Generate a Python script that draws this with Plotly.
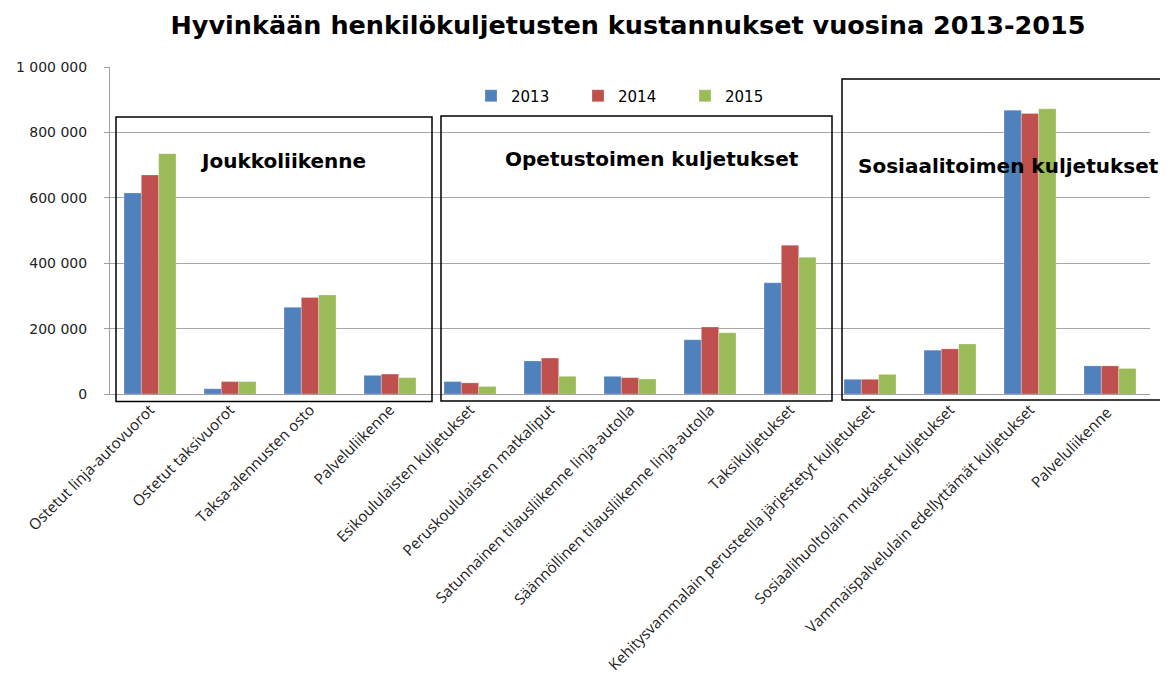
import plotly.graph_objects as go

categories = [
    "Ostetut linja-autovuorot",
    "Ostetut taksivuorot",
    "Taksa-alennusten osto",
    "Palveluliikenne",
    "Esikoululaisten kuljetukset",
    "Peruskoululaisten matkaliput",
    "Satunnainen tilausliikenne linja-autolla",
    "Säännöllinen tilausliikenne linja-autolla",
    "Taksikuljetukset",
    "Kehitysvammalain perusteella järjestetyt kuljetukset",
    "Sosiaalihuoltolain mukaiset kuljetukset",
    "Vammaispalvelulain edellyttämät kuljetukset",
    "Palveluliikenne ",
]
v2013 = [615000, 16000, 265000, 57000, 38000, 101000, 54000, 166000, 340000, 45000, 134000, 868000, 86000]
v2014 = [670000, 38000, 295000, 61000, 34000, 110000, 50000, 205000, 455000, 45000, 138000, 858000, 86000]
v2015 = [735000, 38000, 303000, 50000, 23000, 54000, 46000, 187000, 418000, 60000, 153000, 872000, 78000]
years = ["2013", "2014", "2015"]
colors = ["#4F81BD", "#C0504D", "#9BBB59"]

fig = go.Figure()
for name, vals, c in zip(years, [v2013, v2014, v2015], colors):
    fig.add_trace(go.Bar(x=categories, y=vals, name=name, marker_color=c,
                         marker_line=dict(color="rgba(255,255,255,0.5)", width=0.5)))

OFF = 8  # page body margin
W, H = 1168 - OFF, 685 - OFF
L, R, T, B = 110, 1150, 67, 394  # page coordinates of plot area

def px(x):
    return (x - L) / (R - L)

def py(y):
    return (B - y) / (B - T)

boxes = [(116, 117, 432, 401.5), (441, 116, 832, 401), (842, 79, 1163, 400)]
for x0, y0, x1, y1 in boxes:
    fig.add_shape(type="rect", xref="paper", yref="paper",
                  x0=px(x0), x1=px(x1), y0=py(y1), y1=py(y0),
                  line=dict(color="black", width=1.5), fillcolor="rgba(0,0,0,0)")

group_labels = [("Joukkoliikenne", 283, 161), ("Opetustoimen kuljetukset", 652, 159),
                ("Sosiaalitoimen kuljetukset", 1008, 166)]
for txt, x, y in group_labels:
    fig.add_annotation(text="<b>%s</b>" % txt, xref="paper", yref="paper",
                       x=px(x), y=py(y), showarrow=False, xanchor="center", yanchor="middle",
                       font=dict(family="DejaVu Sans", size=20, color="black"))

fig.update_layout(
    width=W, height=H,
    margin=dict(l=L - OFF, r=W - (R - OFF), t=T - OFF, b=H - (B - OFF), pad=0,
                autoexpand=False),
    paper_bgcolor="white", plot_bgcolor="white",
    separators=", ",
    title=dict(text="<b>Hyvinkään henkilökuljetusten kustannukset vuosina 2013-2015</b>",
               x=(628 - OFF) / W, xanchor="center", y=1 - (25 - OFF) / H, yanchor="middle",
               font=dict(family="DejaVu Sans", size=25.5, color="black")),
    barmode="group", bargap=0.35, bargroupgap=0,
    showlegend=True,
    legend=dict(orientation="h", x=px(471), y=py(96), xanchor="left", yanchor="middle",
                font=dict(family="DejaVu Sans", size=15, color="black"),
                entrywidth=62, entrywidthmode="pixels", bgcolor="rgba(0,0,0,0)",
                itemclick=False),
    font=dict(family="Open Sans", color="black"),
)
fig.update_xaxes(tickangle=-45, tickfont=dict(family="Open Sans", size=15.2, color="#222"),
                 showline=True, linecolor="#a0a0a0", ticks="", range=[-0.5, 12.5],
                 automargin=False)
fig.update_yaxes(range=[0, 1000000], dtick=200000, tickformat=",d",
                 showgrid=True, gridcolor="#a6a6a6", gridwidth=1,
                 showline=True, linecolor="#a0a0a0", ticks="outside", ticklen=5,
                 tickcolor="#a0a0a0", zeroline=False, ticklabelstandoff=14,
                 automargin=False,
                 tickfont=dict(family="DejaVu Sans", size=14, color="#222"))

fig.write_html("out.html")
